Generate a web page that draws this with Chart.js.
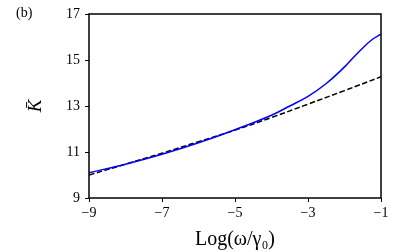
<!DOCTYPE html>
<html lang="en">

<head>
    <meta charset="UTF-8">
    <title>K bar vs Log(omega/gamma0)</title>
    <script src="https://cdn.jsdelivr.net/npm/chart.js"></script>
    <style>
        html, body {
            margin: 0;
            padding: 0;
            background: #ffffff;
        }

        .container {
            position: relative;
            width: 407px;
            height: 252px;
        }
    </style>
</head>

<body>
    <div class="container">
        <canvas id="grafico" width="407" height="252"></canvas>
    </div>

    <script>
        // valores
        const logOmega = [-9, -8, -7, -6, -5, -4, -3.5, -3, -2.5, -2, -1.75, -1.5, -1.25, -1];
        const kBar = [10.1, 10.47, 10.9, 11.4, 11.97, 12.6, 13.0, 13.42, 13.98, 14.7, 15.12, 15.52, 15.88, 16.12];

        const logOmegaAprox = [-9, -8, -7, -6, -5, -4, -3, -2, -1];
        const kBarAprox = [10.0, 10.47, 10.95, 11.45, 11.95, 12.5, 13.08, 13.67, 14.27];

        const xTicks = [-9, -7, -5, -3, -1];
        const yTicks = [9, 11, 13, 15, 17];

        const fonte = "'Liberation Serif', 'DejaVu Serif', serif";

        const pontos = (xs, ys) => xs.map((x, i) => ({ x: x, y: ys[i] }));

        const moldura = {
            id: 'moldura',
            afterDraw(chart) {
                const { ctx, chartArea } = chart;
                ctx.save();
                ctx.strokeStyle = '#000';
                ctx.lineWidth = 1.5;
                ctx.strokeRect(chartArea.left, chartArea.top,
                    chartArea.right - chartArea.left, chartArea.bottom - chartArea.top);

                ctx.fillStyle = '#000';
                ctx.font = '14px ' + fonte;
                ctx.textAlign = 'left';
                ctx.textBaseline = 'middle';
                ctx.fillText('(b)', 16, 13);

                // rótulo do eixo y
                ctx.translate(36, (chartArea.top + chartArea.bottom) / 2);
                ctx.rotate(-Math.PI / 2);
                ctx.textAlign = 'center';
                ctx.font = 'italic 19px ' + fonte;
                ctx.fillText('K̄', 0, 0);
                ctx.restore();
            }
        };

        const ctx = document.getElementById('grafico').getContext('2d');
        const myChart = new Chart(ctx, {
            type: 'line',
            data: {
                datasets: [{
                    label: 'K',
                    data: pontos(logOmega, kBar),
                    borderColor: '#0000ff',
                    borderWidth: 1.5,
                    pointRadius: 0,
                    tension: 0.4,
                    fill: false
                }, {
                    label: 'aprox',
                    data: pontos(logOmegaAprox, kBarAprox),
                    borderColor: '#000000',
                    borderWidth: 1.5,
                    borderDash: [5.5, 2.5],
                    pointRadius: 0,
                    tension: 0.4,
                    fill: false
                }]
            },
            options: {
                responsive: false,
                animation: false,
                layout: {
                    padding: { left: 0, right: 26, top: 14, bottom: 0 }
                },
                plugins: {
                    legend: { display: false },
                    tooltip: { enabled: false }
                },
                scales: {
                    x: {
                        type: 'linear',
                        min: -9,
                        max: -1,
                        afterBuildTicks: axis => { axis.ticks = xTicks.map(v => ({ value: v })); },
                        afterFit: axis => { axis.height = 54; },
                        ticks: {
                            color: '#000',
                            font: { family: fonte, size: 14 },
                            padding: 3,
                            maxRotation: 0,
                            callback: v => (v < 0 ? '\u2212' + Math.abs(v) : '' + v)
                        },
                        grid: {
                            drawOnChartArea: false,
                            drawTicks: true,
                            tickLength: 4,
                            color: '#000',
                            tickWidth: 1
                        },
                        border: { display: false },
                        title: {
                            display: true,
                            text: 'Log(ω/γ₀)',
                            color: '#000',
                            font: { family: fonte, size: 20 },
                            padding: { top: 0, bottom: 0 }
                        }
                    },
                    y: {
                        min: 9,
                        max: 17,
                        afterBuildTicks: axis => { axis.ticks = yTicks.map(v => ({ value: v })); },
                        afterFit: axis => { axis.width = 89; },
                        ticks: {
                            color: '#000',
                            font: { family: fonte, size: 14 },
                            padding: 5
                        },
                        grid: {
                            drawOnChartArea: false,
                            drawTicks: true,
                            tickLength: 4,
                            color: '#000',
                            tickWidth: 1
                        },
                        border: { display: false }
                    }
                }
            },
            plugins: [moldura]
        });
    </script>
</body>

</html>
